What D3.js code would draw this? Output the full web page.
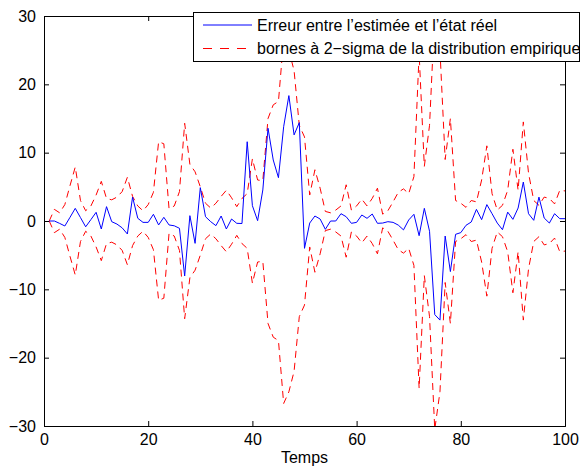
<!DOCTYPE html>
<html>
<head>
<meta charset="utf-8">
<script src="https://cdn.jsdelivr.net/npm/d3@7"></script>
<style>
  html, body { margin: 0; padding: 0; background: #fff; }
  svg text { font-family: "Liberation Sans", Arial, Helvetica, sans-serif; }
</style>
</head>
<body>
<svg id="chart" width="580" height="468"></svg>
<script>
const temps = [1,2,3,4,5,6,7,8,9,10,11,12,13,14,15,16,17,18,19,20,
  21,22,23,24,25,26,27,28,29,30,31,32,33,34,35,36,37,38,39,40,
  41,42,43,44,45,46,47,48,49,50,51,52,53,54,55,56,57,58,59,60,
  61,62,63,64,65,66,67,68,69,70,71,72,73,74,75,76,77,78,79,80,
  81,82,83,84,85,86,87,88,89,90,91,92,93,94,95,96,97,98,99,100];

const erreur = [0, 0, -0.35, -0.73, 0.55, 1.85, 0.5, -0.85, 0.2, 1.27,
  -1.17, 2.1, -0.1, -0.45, -1.0, -1.9, 3.5, 0.4, -0.2, -0.2,
  0.98, -0.58, 0.54, -0.58, -0.7, -1.07, -8.05, 0.78, -3.27, 4.88,
  0.63, -0.1, -0.68, 0.73, -1.17, 0.29, -0.34, -0.37, 11.6, 2.24,
  0.05, 4.54, 13.57, 8.93, 6.34, 13.8, 18.35, 12.6, 14.4, -4.0,
  -0.3, 0.73, 0.29, -1.22, 0.0, 0.0, 1.07, 0.63, -0.34, -0.2,
  0.88, 0.39, 1.02, -0.34, -0.3, -0.1, -0.2, -0.6, -1.3, 0.15,
  0.98, -2.15, 1.85, -1.5, -13.7, -14.5, -2.2, -7.4, -1.95, -1.7,
  -0.63, -0.15, 1.7, 0.2, 2.4, 1.07, -0.3, -1.27, 1.3, 0.24,
  1.9, 5.7, 1.07, 0.1, 3.5, 0.44, -0.3, 1.07, 0.34, 0.34];

const borneSup = [0, 1.7, 1.2, 2.4, 5.2, 7.9, 3.0, 1.5, 2.2, 3.8,
  5.8, 3.3, 3.1, 3.5, 4.3, 6.4, 3.6, 2.2, 1.5, 2.4,
  4.2, 11.6, 11.3, 1.8, 2.2, 4.3, 14.3, 8.3, 7.2, 5.0,
  2.6, 1.9, 2.6, 3.6, 4.5, 3.4, 2.1, 3.3, 4.0, 9.1,
  6.0, 5.9, 15.0, 17.0, 17.5, 26.7, 25.0, 22.0, 14.0, 12.3,
  3.8, 7.5, 4.8, 1.4, 1.2, 1.6, 2.2, 5.3, 1.6, 2.2,
  3.2, 2.2, 3.3, 4.8, 1.0, 1.5, 2.8, 4.2, 4.7, 4.0,
  6.5, 24.5, 8.0, 14.0, 30.5, 25.0, 9.0, 15.0, 3.0, 2.6,
  2.0, 3.0, 2.8, 6.0, 11.0, 4.0, 1.6, 2.3, 4.5, 10.5,
  4.5, 14.5, 7.0, 3.0, 2.3, 3.5, 3.3, 2.5, 4.5, 4.4];

const borneInf = [0, -1.7, -1.2, -2.4, -5.2, -7.9, -3.0, -1.5, -2.2, -3.8,
  -5.8, -3.3, -3.1, -3.5, -4.3, -6.4, -3.6, -2.2, -1.5, -2.4,
  -4.2, -11.6, -11.3, -1.8, -2.2, -4.3, -14.3, -8.3, -7.2, -5.0,
  -2.6, -1.9, -2.6, -3.6, -4.5, -3.4, -2.1, -3.3, -4.0, -9.1,
  -6.0, -5.9, -15.0, -17.0, -17.5, -26.7, -25.0, -22.0, -14.0, -12.3,
  -3.8, -7.5, -4.8, -1.4, -1.2, -1.6, -2.2, -5.3, -1.6, -2.2,
  -3.2, -2.2, -3.3, -4.8, -1.0, -1.5, -2.8, -4.2, -4.7, -4.0,
  -6.5, -24.5, -8.0, -14.0, -30.5, -25.0, -9.0, -15.0, -3.0, -2.6,
  -2.0, -3.0, -2.8, -6.0, -11.0, -4.0, -1.6, -2.3, -4.5, -10.5,
  -4.5, -14.5, -7.0, -3.0, -2.3, -3.5, -3.3, -2.5, -4.5, -4.4];

const xTicks = [0, 20, 40, 60, 80, 100];
const yTicks = [-30, -20, -10, 0, 10, 20, 30];
const xLabel = "Temps";
const legendLabels = ["Erreur entre l\u2019estimée et l\u2019état réel",
                      "bornes à 2\u2212sigma de la distribution empirique"];

const FS = 16;
const svg = d3.select("#chart");
const L = 44, R = 565, T = 16, B = 426;

const x = d3.scaleLinear().domain([0, 100]).range([L, R]);
const y = d3.scaleLinear().domain([-30, 30]).range([B, T]);

svg.append("defs").append("clipPath").attr("id", "clip")
  .append("rect").attr("x", L).attr("y", T).attr("width", R - L).attr("height", B - T);

const fmt = d => (d < 0 ? "\u2212" + Math.abs(d) : String(d));

// axes (ticks inward)
const axB = d3.axisBottom(x).tickValues(xTicks).tickSize(-5).tickPadding(8).tickFormat(fmt);
const axT = d3.axisTop(x).tickValues(xTicks).tickSize(-5).tickFormat("");
const axLf = d3.axisLeft(y).tickValues(yTicks).tickSize(-5).tickPadding(8).tickFormat(fmt);
const axRt = d3.axisRight(y).tickValues(yTicks).tickSize(-5).tickFormat("");

function style(g) {
  g.select(".domain").attr("stroke", "#000").attr("stroke-width", 1);
  g.selectAll(".tick line").attr("stroke", "#000");
  g.selectAll(".tick text").attr("fill", "#000").attr("font-size", FS)
    .attr("font-family", "Liberation Sans, Arial, sans-serif");
}

const lineData = (vals) => temps.map((t, i) => [t, vals[i]]);
const line = d3.line().x(d => x(d[0])).y(d => y(d[1]));

const plot = svg.append("g").attr("clip-path", "url(#clip)");
plot.append("path").datum(lineData(borneSup)).attr("d", line)
  .attr("fill", "none").attr("stroke", "#ff0000").attr("stroke-width", 1)
  .attr("stroke-dasharray", "7,5");
plot.append("path").datum(lineData(borneInf)).attr("d", line)
  .attr("fill", "none").attr("stroke", "#ff0000").attr("stroke-width", 1)
  .attr("stroke-dasharray", "7,5");
plot.append("path").datum(lineData(erreur)).attr("d", line)
  .attr("fill", "none").attr("stroke", "#0000ff").attr("stroke-width", 1);

svg.append("g").attr("transform", `translate(0,${B})`).call(axB).call(style);
svg.append("g").attr("transform", `translate(0,${T})`).call(axT).call(style);
svg.append("g").attr("transform", `translate(${L},0)`).call(axLf).call(style);
svg.append("g").attr("transform", `translate(${R},0)`).call(axRt).call(style);

svg.append("text").attr("x", (L + R) / 2).attr("y", 463).attr("text-anchor", "middle")
  .attr("font-size", FS).attr("fill", "#000").text(xLabel);

// legend
const lg = svg.append("g");
lg.append("rect").attr("x", 193.5).attr("y", 12.5).attr("width", 386).attr("height", 49)
  .attr("fill", "#fff").attr("stroke", "#000").attr("stroke-width", 1);
lg.append("line").attr("x1", 203).attr("x2", 252).attr("y1", 25).attr("y2", 25)
  .attr("stroke", "#0000ff").attr("stroke-width", 1);
lg.append("line").attr("x1", 203).attr("x2", 252).attr("y1", 48.5).attr("y2", 48.5)
  .attr("stroke", "#ff0000").attr("stroke-width", 1).attr("stroke-dasharray", "9,8");
lg.append("text").attr("x", 257).attr("y", 30.5).attr("font-size", FS).attr("fill", "#000")
  .text(legendLabels[0]);
lg.append("text").attr("x", 257).attr("y", 54).attr("font-size", FS).attr("fill", "#000")
  .text(legendLabels[1]);
</script>
</body>
</html>
